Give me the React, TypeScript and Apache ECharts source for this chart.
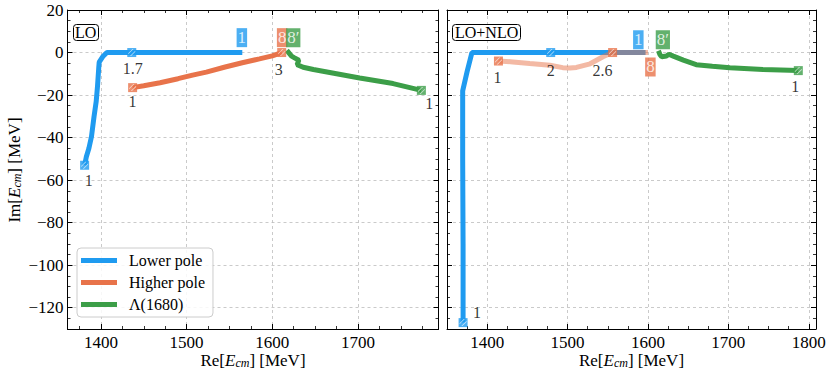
import React, { useEffect, useRef } from "react";
import * as echarts from "echarts";

// ---------- data ----------
const seriesNames = ["Lower pole", "Higher pole", "Λ(1680)"];

// LO panel trajectories [Re, Im] in MeV
const loLower: number[][] = [
  [1381, -53], [1383, -49], [1386, -45], [1389, -39.5], [1392, -30], [1394.5, -23],
  [1396, -16], [1397.5, -7], [1398, -4.5], [1402, -2], [1407, 0], [1436, 0], [1565, 0],
];
const loHigher: number[][] = [
  [1437, -16.5], [1450, -15.6], [1469, -14.2], [1490, -12.3], [1507, -10.6], [1523, -9.2],
  [1545, -6.8], [1565, -4.8], [1585, -3], [1600, -1.6], [1611, 0],
];
const loLambda: number[][] = [
  [1617, 1], [1622.5, -1.7], [1626, -2.5], [1631, -3.6], [1629, -5.7], [1636, -6.9],
  [1648, -8], [1675, -10], [1702, -12], [1741, -14.6], [1774, -17.8],
];

// LO+NLO panel trajectories
const nloLower: number[][] = [
  [1370, -127], [1370, -90], [1369.5, -50], [1369.5, -18], [1375, -9], [1381, 0],
  [1479, 0], [1556, 0], [1597, 0],
];
const nloHigher: number[][] = [
  [1414, -4], [1432, -4.4], [1453, -5.2], [1478, -6], [1494, -7.1], [1503, -7.3],
  [1511, -7], [1528, -5.3], [1544, -2], [1556, 0], [1600, 0],
];
const nloLambda: number[][] = [
  [1613, 0.8], [1615, -1], [1617, -2], [1623, -1.6], [1626, -0.8], [1631.5, -1.7],
  [1644, -3.6], [1660, -5.7], [1680, -6.5], [1702, -7.2], [1743, -8], [1787, -8.5],
];

// marked points: [Re, Im, seriesIndex, label]
const loMarks: (number | string)[][] = [
  [1381, -53, 0, "1"], [1436, 0, 0, "1.7"],
  [1437, -16.5, 1, "1"], [1611, 0, 1, "3"],
  [1774, -17.8, 2, "1"],
];
const nloMarks: (number | string)[][] = [
  [1370, -127, 0, "1"], [1479, 0, 0, "2"],
  [1414, -4, 1, "1"], [1556, 0, 1, "2.6"],
  [1787, -8.5, 2, "1"],
];

// boxed tags: [Re, Im, seriesIndex, text]
const loTags: (number | string)[][] = [
  [1564.5, 7, 0, "1"], [1611.5, 7, 1, "8"], [1624.5, 7, 2, "8′"],
];
const nloTags: (number | string)[][] = [
  [1588, 6, 0, "1"], [1618.5, 6, 2, "8′"], [1603, -6.8, 1, "8"],
];

// axis extents and titles
const loXRange = [1361, 1794];
const nloXRange = [1350, 1809];
const yRange = [-130, 20];
const xTitle = "Re[{i|E}{s|cm}] [MeV]";
const yTitle = "Im[{i|E}{s|cm}] [MeV]";
const panelTitles = ["LO", "LO+NLO"];

// ---------- style ----------
const FONT = "'Liberation Serif', 'Times New Roman', serif";
const COLORS = ["#1f9bf0", "#e8734a", "#3c9e48"];
const loLabelOffsets = [[4, 15], [1, 16], [0, 14], [-3, 17], [8, 13]];
const nloLabelOffsets = [[14, -10], [0, 18], [-1, 16], [-10, 18], [-3, 16]];
const HATCH = "path://M0,6 L6,0 L7.5,0 L0,7.5 Z M2.5,10 L10,2.5 L10,4 L4,10 Z";

const fmt = (v: number) => String(v).replace("-", "−");

const nameRich = {
  n: { fontFamily: FONT, fontSize: 17, color: "#000" },
  i: { fontFamily: FONT, fontSize: 17, fontStyle: "italic", color: "#000" },
  s: { fontFamily: FONT, fontSize: 12, fontStyle: "italic", color: "#000", padding: [6, 0, 0, 0] },
};
const richText = (t: string) => t.replace(/^([^{]+)/, "{n|$1}").replace(/\}([^{}]+)$/, "}{n|$1}");

function xAx(grid: number, range: number[], top: boolean) {
  return {
    type: "value",
    gridIndex: grid,
    min: range[0],
    max: range[1],
    splitNumber: 5,
    position: top ? "top" : "bottom",
    axisLine: { show: true, onZero: false, lineStyle: { color: "#000", width: 1 } },
    axisTick: { show: true, inside: true, length: 5, lineStyle: { color: "#000", width: 1 } },
    minorTick: { show: true, splitNumber: 4, length: 3, lineStyle: { color: "#000", width: 0.8 } },
    axisLabel: {
      show: !top, showMinLabel: false, showMaxLabel: false, color: "#000",
      fontFamily: FONT, fontSize: 17, margin: 5, formatter: fmt,
    },
    splitLine: { show: !top, lineStyle: { color: "#bdbdbd", width: 0.8, type: [3, 3] } },
  };
}

function yAx(grid: number, right: boolean, labels: boolean) {
  return {
    type: "value",
    gridIndex: grid,
    min: yRange[0],
    max: yRange[1],
    splitNumber: 8,
    position: right ? "right" : "left",
    axisLine: { show: true, onZero: false, lineStyle: { color: "#000", width: 1 } },
    axisTick: { show: true, inside: true, length: 5, lineStyle: { color: "#000", width: 1 } },
    minorTick: { show: true, splitNumber: 4, length: 3, lineStyle: { color: "#000", width: 0.8 } },
    axisLabel: {
      show: labels, showMinLabel: false, color: "#000",
      fontFamily: FONT, fontSize: 17, margin: 4, formatter: fmt,
    },
    splitLine: { show: !right, lineStyle: { color: "#bdbdbd", width: 0.8, type: [3, 3] } },
  };
}

function lineSeries(name: string, data: number[][], color: string, xi: number, yi: number, opacity = 1) {
  return {
    type: "line",
    name,
    xAxisIndex: xi,
    yAxisIndex: yi,
    data,
    showSymbol: false,
    symbol: "none",
    lineStyle: { color, width: 5, opacity },
    itemStyle: { color },
    silent: true,
    z: 3,
  };
}

function markSeries(marks: (number | string)[][], offsets: number[][], xi: number, yi: number) {
  return [
    {
      type: "scatter",
      xAxisIndex: xi, yAxisIndex: yi,
      symbol: "rect",
      symbolSize: 9,
      z: 5,
      silent: true,
      data: marks.map((m) => ({
        value: [m[0], m[1]],
        itemStyle: { color: COLORS[m[2] as number] },
      })),
    },
    {
      type: "scatter",
      xAxisIndex: xi, yAxisIndex: yi,
      symbol: HATCH,
      symbolSize: 7,
      z: 6,
      silent: true,
      itemStyle: { color: "rgba(255,255,255,0.85)" },
      data: marks.map((m) => [m[0], m[1]]),
    },
    {
      type: "scatter",
      xAxisIndex: xi, yAxisIndex: yi,
      symbolSize: 1,
      z: 7,
      silent: true,
      itemStyle: { color: "transparent" },
      data: marks.map((m, i) => ({
        value: [m[0], m[1]],
        label: {
          show: true,
          position: "inside",
          offset: offsets[i],
          formatter: String(m[3]),
          fontFamily: FONT,
          fontSize: 16,
          color: "#000",
          textBorderWidth: 0,
        },
      })),
    },
  ];
}

function tagSeries(tags: (number | string)[][], xi: number, yi: number) {
  return {
    type: "scatter",
    xAxisIndex: xi, yAxisIndex: yi,
    symbolSize: 1,
    z: 8,
    silent: true,
    itemStyle: { color: "transparent" },
    data: tags.map((t) => ({
      value: [t[0], t[1]],
      label: {
        show: true,
        position: "inside",
        formatter: String(t[3]),
        fontFamily: FONT,
        fontSize: 17,
        lineHeight: 18,
        color: "#fff",
        textBorderWidth: 0,
        backgroundColor: COLORS[t[2] as number],
        padding: [1, 1, 0, 1],
      },
    })),
  };
}

export default function App() {
  const ref = useRef<HTMLDivElement>(null);
  useEffect(() => {
    if (!ref.current) return;
    const chart = echarts.init(ref.current, undefined, { renderer: "svg" });
    const titleBox = (text: string, left: number, pad: number) => ({
      text, left, top: 25, padding: [0, pad, 0, pad],
      borderColor: "#000", borderWidth: 1, borderRadius: 3, backgroundColor: "#fff",
      textStyle: { fontFamily: FONT, fontSize: 16, fontWeight: "normal", color: "#000", lineHeight: 15 },
    });
    const axisTitle = (text: string, x: number, y: number, rot: number) => ({
      type: "text",
      x, y, rotation: rot,
      silent: true,
      style: {
        text: richText(text),
        rich: nameRich,
        align: "center",
        verticalAlign: "middle",
        fill: "#000",
        font: `17px ${FONT}`,
      },
    });
    const option = {
      animation: false,
      backgroundColor: "#fff",
      textStyle: { fontFamily: FONT },
      title: [titleBox(panelTitles[0], 73, 2), titleBox(panelTitles[1], 452, 3)],
      graphic: [
        axisTitle(xTitle, 253, 360, 0),
        axisTitle(xTitle, 631.5, 360, 0),
        axisTitle(yTitle, 14, 170, Math.PI / 2),
      ],
      legend: {
        left: 77, top: 248, orient: "vertical",
        data: seriesNames,
        icon: "rect", itemWidth: 36, itemHeight: 5, itemGap: 5,
        padding: [4, 8, 4, 4],
        backgroundColor: "rgba(255,255,255,0.85)",
        borderColor: "#cccccc", borderWidth: 1, borderRadius: 4,
        textStyle: { fontFamily: FONT, fontSize: 16, color: "#000", lineHeight: 17, padding: [0, 0, 0, 7] },
        selectedMode: false,
      },
      grid: [
        { left: 67.5, right: 392.5, top: 10, bottom: 46 },
        { left: 447, right: 15, top: 10, bottom: 46 },
      ],
      xAxis: [xAx(0, loXRange, false), xAx(0, loXRange, true), xAx(1, nloXRange, false), xAx(1, nloXRange, true)],
      yAxis: [yAx(0, false, true), yAx(0, true, false), yAx(1, false, false), yAx(1, true, false)],
      series: [
        lineSeries(seriesNames[0], loLower, COLORS[0], 0, 0),
        lineSeries(seriesNames[1], loHigher, COLORS[1], 0, 0),
        lineSeries(seriesNames[2], loLambda, COLORS[2], 0, 0),
        ...markSeries(loMarks, loLabelOffsets, 0, 0),
        tagSeries(loTags, 0, 0),
        lineSeries("nlo-lower", nloLower, COLORS[0], 2, 2),
        lineSeries("nlo-higher", nloHigher, COLORS[1], 2, 2, 0.5),
        lineSeries("nlo-lambda", nloLambda, COLORS[2], 2, 2),
        ...markSeries(nloMarks, nloLabelOffsets, 2, 2),
        tagSeries(nloTags, 2, 2),
      ],
    };
    chart.setOption(option as any);
    return () => chart.dispose();
  }, []);
  return (
    <div
      ref={ref}
      style={{ position: "absolute", left: 0, top: 0, width: 831, height: 375 }}
    />
  );
}
